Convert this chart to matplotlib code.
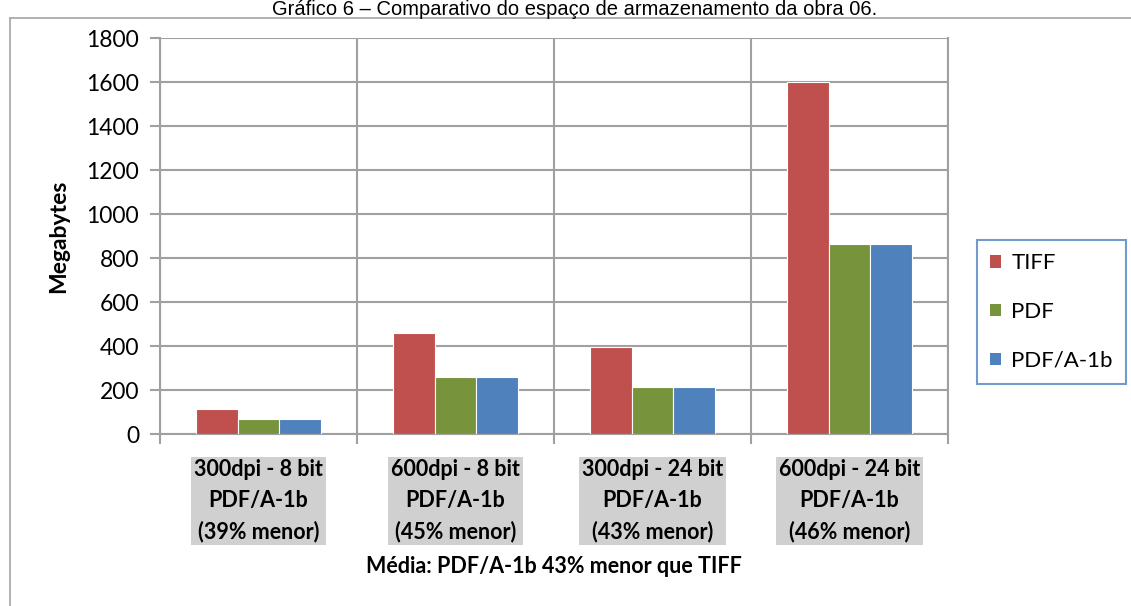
import numpy as np
import matplotlib.pyplot as plt
from matplotlib.patches import Patch
from matplotlib.lines import Line2D

# armazenamento por configuracao de digitalizacao (MB)
categorias = ["300dpi - 8 bit\nPDF/A-1b\n(39% menor)",
              "600dpi - 8 bit\nPDF/A-1b\n(45% menor)",
              "300dpi - 24 bit\nPDF/A-1b\n(43% menor)",
              "600dpi - 24 bit\nPDF/A-1b\n(46% menor)"]
tiff = [113, 462, 396, 1600]
pdf = [68, 262, 217, 865]
pdfa = [68, 262, 217, 865]
series = ["TIFF", "PDF", "PDF/A-1b"]
cores = ["#c0504d", "#77933c", "#4f81bd"]
yticks = [0, 200, 400, 600, 800, 1000, 1200, 1400, 1600, 1800]

W, H = 1131, 606
fig = plt.figure(figsize=(W / 100, H / 100), dpi=100)

# moldura do grafico
fig.add_artist(Line2D([10 / W, 10 / W], [0, 1 - 18 / H], color="#a6a6a6", lw=1.2))
fig.add_artist(Line2D([10 / W, 1], [1 - 18 / H, 1 - 18 / H], color="#a6a6a6", lw=1.2))

fig.text(575 / W, 1 - 15 / H, "Gráfico 6 – Comparativo do espaço de armazenamento da obra 06.",
         family="Liberation Sans", fontsize=14.5, ha="center", va="baseline")

ax = fig.add_axes([160 / W, 1 - 434.3 / H, (948 - 160) / W, (434.3 - 38.3) / H])

x = np.arange(len(categorias))
larg = 0.21
for i, (vals, cor) in enumerate(zip([tiff, pdf, pdfa], cores)):
    ax.bar(x + (i - 1) * larg, vals, larg, color=cor, edgecolor="white", linewidth=0.8,
           label=series[i], zorder=3)

ax.set_xlim(-0.5, 3.5)
ax.set_ylim(0, 1800)
ax.set_yticks(yticks)
ax.set_yticklabels([str(v) for v in yticks], family="Lato", fontsize=16.5)
ax.set_xticks(x)
ax.set_xticklabels(categorias, family="Lato", fontweight="bold", fontsize=15.5,
                   linespacing=1.55)
for t in ax.get_xticklabels():
    t.set_bbox(dict(facecolor="#d0d0d0", edgecolor="none", pad=2))
ax.set_xticks(np.arange(-0.5, 4, 1), minor=True)
ax.tick_params(axis="x", which="major", length=0, pad=18)
ax.tick_params(axis="x", which="minor", length=7, width=1.5, color="#a0a0a0")
ax.tick_params(axis="y", length=7, width=1.5, color="#a0a0a0", pad=8)

ax.grid(axis="y", color="#a0a0a0", lw=1.5, zorder=0)
ax.grid(axis="x", which="minor", color="#a0a0a0", lw=1.5, zorder=0)
for s in ax.spines.values():
    s.set_color("#a0a0a0")
    s.set_linewidth(1.5)
ax.spines["top"].set_visible(False)

ax.set_ylabel("Megabytes", family="Lato", fontweight="bold", fontsize=16.5, labelpad=12)
ax.set_xlabel("Média: PDF/A-1b 43% menor que TIFF", family="Lato", fontweight="bold",
              fontsize=15.5, labelpad=10)

handles = [Patch(facecolor=c, edgecolor="none") for c in cores]
leg = fig.legend(handles, series, loc="center left", bbox_to_anchor=(977 / W, 1 - 312 / H),
                 prop={"family": "Lato", "size": 16}, frameon=True, fancybox=False,
                 edgecolor="#4f81bd", handlelength=0.5, handleheight=0.5,
                 handletextpad=0.45, labelspacing=1.3, borderpad=0.6, borderaxespad=0)
leg.get_frame().set_linewidth(1.5)

fig.savefig("out.png", dpi=100)
